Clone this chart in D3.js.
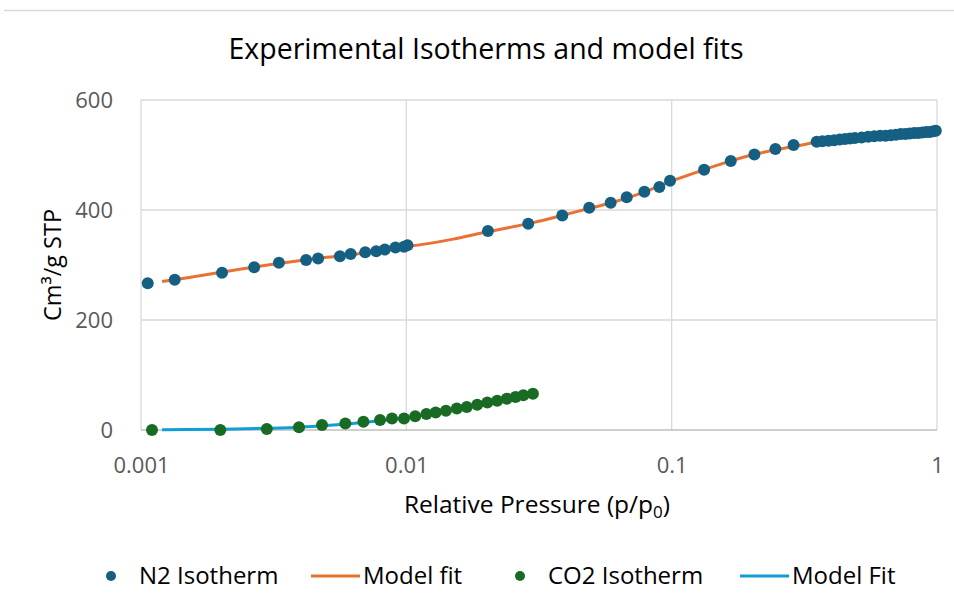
<!DOCTYPE html>
<html>
<head>
<meta charset="utf-8">
<script src="https://cdn.jsdelivr.net/npm/d3@7"></script>
<style>
  body { margin: 0; background: #fff; }
  svg { font-family: "Open Sans", Roboto, sans-serif; }
</style>
</head>
<body>
<script>
"use strict";

// N2 isotherm
const n2P = [0.00106, 0.00134, 0.00202, 0.00267, 0.00331, 0.00419, 0.00465, 0.00562, 0.00617, 0.0070,
    0.0077, 0.0083, 0.0091, 0.0098, 0.0101, 0.0203, 0.0288, 0.0387, 0.0489, 0.0589,
    0.0677, 0.0789, 0.0899, 0.0986, 0.1325, 0.167, 0.205, 0.246, 0.288, 0.352,
    0.37, 0.39, 0.41, 0.43, 0.45, 0.47, 0.49, 0.52, 0.55, 0.58,
    0.61, 0.64, 0.67, 0.70, 0.73, 0.76, 0.79, 0.82, 0.85, 0.88,
    0.91, 0.94, 0.97, 0.99];
const n2V = [267, 273, 286, 296, 304, 309, 312, 316, 320, 323,
    325, 328, 332, 333, 336, 362, 375, 390, 404, 413,
    423, 433, 442, 453, 473, 489, 501, 511, 518, 524,
    525, 526, 527, 528, 529, 530, 531, 532, 533, 534,
    535, 535, 536, 537, 538, 538, 539, 540, 540, 541,
    542, 542, 543, 544];

// N2 model fit
const n2FitP = [0.0012, 0.0015, 0.002, 0.003, 0.004, 0.005, 0.006, 0.007, 0.008, 0.009,
    0.01, 0.015, 0.02, 0.03, 0.04, 0.05, 0.06, 0.07, 0.08, 0.09,
    0.1, 0.12, 0.15, 0.2, 0.25, 0.3, 0.35, 0.4, 0.5, 0.6,
    0.7, 0.8, 0.9, 1.0];
const n2FitV = [270, 277, 287, 300, 308, 314, 318, 322, 326, 330,
    333, 347, 360, 377, 392, 404, 414, 424, 434, 444,
    453, 466, 482, 500, 510, 517, 523, 527, 532, 535,
    537, 539, 541, 543];

// CO2 isotherm
const co2P = [0.00110, 0.00199, 0.00298, 0.00394, 0.00481, 0.00589, 0.00689, 0.00796, 0.00883, 0.0098,
    0.0108, 0.0119, 0.0129, 0.0141, 0.0155, 0.0169, 0.0185, 0.0202, 0.0220, 0.0239,
    0.0258, 0.0276, 0.0300];
const co2V = [0, 0, 2, 5, 9, 12, 15, 18, 21, 21,
    25, 29, 32, 35, 39, 42, 46, 50, 53, 57,
    60, 63, 66];

// CO2 model fit
const co2FitP = [0.0012, 0.002, 0.003, 0.004, 0.005, 0.006, 0.007, 0.008, 0.01, 0.015, 0.02, 0.025, 0.03];
const co2FitV = [0.5, 1.5, 3, 5, 8, 11, 14, 17, 22, 38, 49, 59, 65];

const xTicks = [0.001, 0.01, 0.1, 1];
const xTickLabels = ["0.001", "0.01", "0.1", "1"];
const yTicks = [0, 200, 400, 600];

const legendItems = [
    { label: "N2 Isotherm", type: "dot", color: "#156082" },
    { label: "Model fit", type: "line", color: "#E97132" },
    { label: "CO2 Isotherm", type: "dot", color: "#196B24" },
    { label: "Model Fit", type: "line", color: "#0F9ED5" }
];

const W = 954, H = 610;
const plot = { left: 141, right: 937, top: 100, bottom: 430 };

const svg = d3.select("body").append("svg")
    .attr("width", W)
    .attr("height", H);

// thin frame line at the top
svg.append("line")
    .attr("x1", 4).attr("x2", W)
    .attr("y1", 10.5).attr("y2", 10.5)
    .attr("stroke", "#d9d9d9")
    .attr("stroke-width", 1.5);

const x = d3.scaleLog().domain([0.001, 1]).range([plot.left, plot.right]);
const y = d3.scaleLinear().domain([0, 600]).range([plot.bottom, plot.top]);

// grid
svg.append("g")
    .selectAll("line.vgrid")
    .data(xTicks)
    .join("line")
    .attr("class", "vgrid")
    .attr("x1", d => x(d)).attr("x2", d => x(d))
    .attr("y1", plot.top).attr("y2", plot.bottom)
    .attr("stroke", "#d9d9d9")
    .attr("stroke-width", 1.3);

svg.append("g")
    .selectAll("line.hgrid")
    .data(yTicks)
    .join("line")
    .attr("class", "hgrid")
    .attr("x1", plot.left).attr("x2", plot.right)
    .attr("y1", d => y(d)).attr("y2", d => y(d))
    .attr("stroke", d => d === 0 ? "#bfbfbf" : "#d9d9d9")
    .attr("stroke-width", 1.3);

// axes (labels only, grid drawn above)
const xAxis = d3.axisBottom(x)
    .tickValues(xTicks)
    .tickFormat((d, i) => xTickLabels[i])
    .tickSize(0)
    .tickPadding(27);

const gx = svg.append("g")
    .attr("transform", `translate(0,${plot.bottom})`)
    .call(xAxis);

const yAxis = d3.axisLeft(y)
    .tickValues(yTicks)
    .tickSize(0)
    .tickPadding(28);

const gy = svg.append("g")
    .attr("transform", `translate(${plot.left},0)`)
    .call(yAxis);

[gx, gy].forEach(g => {
    g.select(".domain").remove();
    g.selectAll("text")
        .attr("fill", "#595959")
        .style("font-family", "'Open Sans', sans-serif")
        .style("font-size", "22px");
});

// model fit lines
const line = d3.line()
    .x(d => x(d[0]))
    .y(d => y(d[1]))
    .curve(d3.curveMonotoneX);

svg.append("path")
    .datum(n2FitP.map((p, i) => [p, n2FitV[i]]))
    .attr("d", line)
    .attr("fill", "none")
    .attr("stroke", "#E97132")
    .attr("stroke-width", 3);

svg.append("path")
    .datum(co2FitP.map((p, i) => [p, co2FitV[i]]))
    .attr("d", line)
    .attr("fill", "none")
    .attr("stroke", "#0F9ED5")
    .attr("stroke-width", 3);

// isotherm points
svg.append("g")
    .selectAll("circle")
    .data(n2P.map((p, i) => [p, n2V[i]]))
    .join("circle")
    .attr("cx", d => x(d[0]))
    .attr("cy", d => y(d[1]))
    .attr("r", 6)
    .attr("fill", "#156082");

svg.append("g")
    .selectAll("circle")
    .data(co2P.map((p, i) => [p, co2V[i]]))
    .join("circle")
    .attr("cx", d => x(d[0]))
    .attr("cy", d => y(d[1]))
    .attr("r", 6)
    .attr("fill", "#196B24");

// title and axis titles
svg.append("text")
    .attr("x", 486)
    .attr("y", 59)
    .attr("text-anchor", "middle")
    .attr("fill", "#000")
    .style("font-size", "28.5px")
    .text("Experimental Isotherms and model fits");

svg.append("text")
    .attr("transform", "translate(61,265)rotate(-90)")
    .attr("text-anchor", "middle")
    .attr("fill", "#000")
    .style("font-size", "23.5px")
    .text("Cm³/g STP");

const xTitle = svg.append("text")
    .attr("x", 537)
    .attr("y", 513)
    .attr("text-anchor", "middle")
    .attr("fill", "#000")
    .style("font-size", "24.5px");
xTitle.append("tspan").text("Relative Pressure (p/p");
xTitle.append("tspan").attr("dy", 5).style("font-size", "17px").text("0");
xTitle.append("tspan").attr("dy", -5).text(")");

// legend
const legendX = [111, 311, 520, 740];
const legend = svg.append("g");
legendItems.forEach((item, i) => {
    const g = legend.append("g").attr("transform", `translate(${legendX[i]},576)`);
    let textX;
    if (item.type === "dot") {
        g.append("circle").attr("cx", 0).attr("cy", 0).attr("r", 5).attr("fill", item.color);
        textX = 28;
    } else {
        g.append("line").attr("x1", 0).attr("x2", 49).attr("y1", 0).attr("y2", 0)
            .attr("stroke", item.color).attr("stroke-width", 3);
        textX = 52;
    }
    g.append("text")
        .attr("x", textX)
        .attr("y", 8)
        .attr("fill", "#000")
        .style("font-size", "24px")
        .text(item.label);
});
</script>
</body>
</html>
